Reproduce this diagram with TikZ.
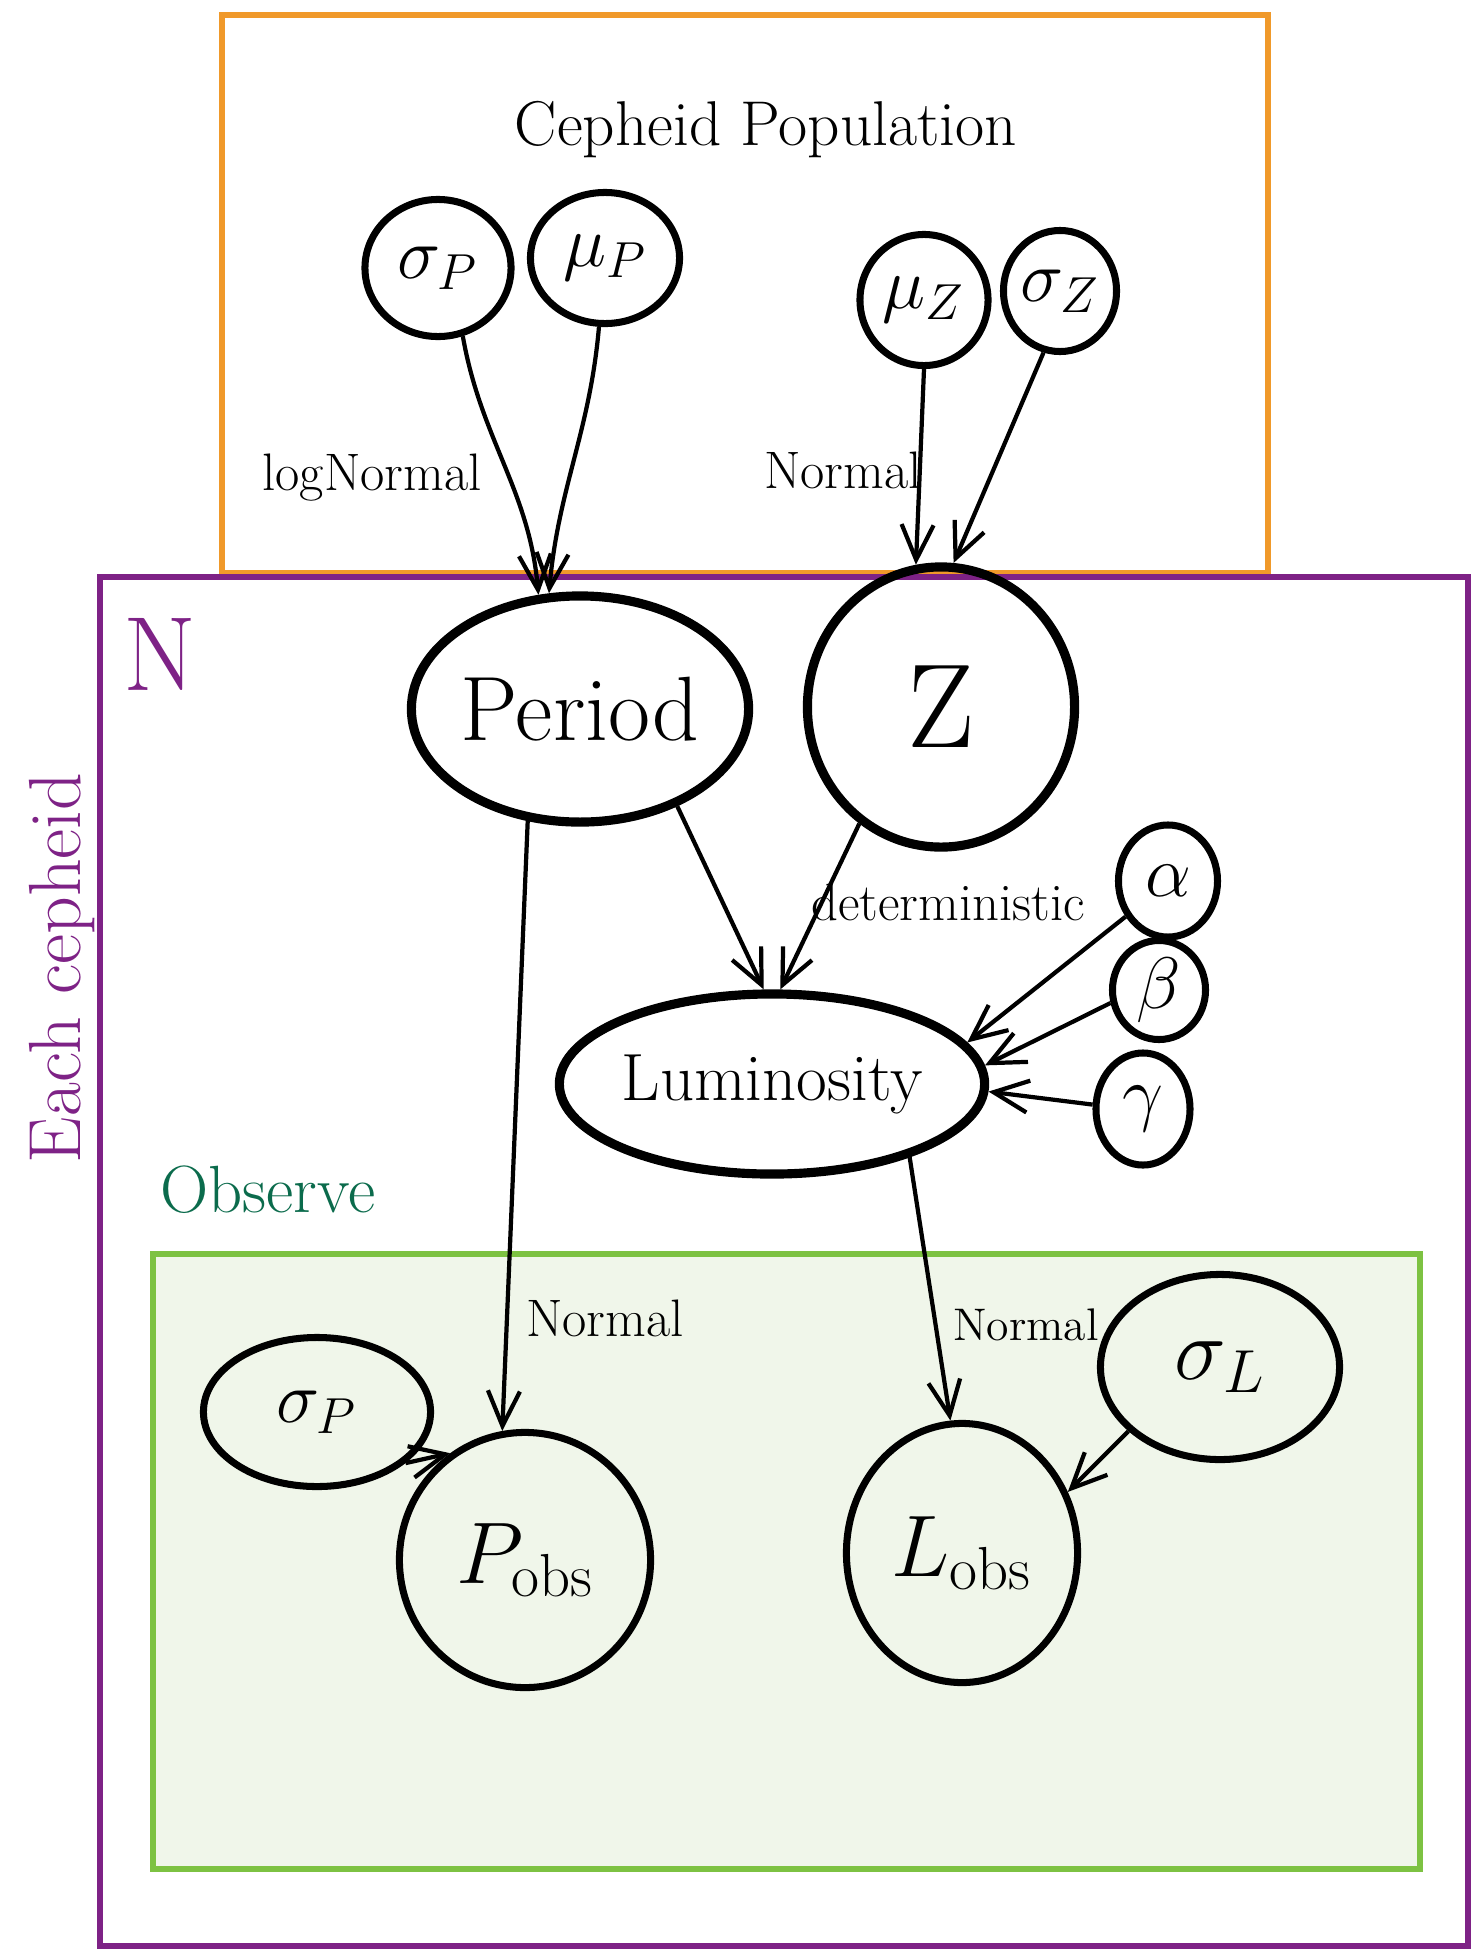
\documentclass[tikz,border=0pt]{standalone}
\usetikzlibrary{shapes.geometric,arrows.meta}
\definecolor{popOrange}{HTML}{F0992A}
\definecolor{plateViolet}{HTML}{7E2286}
\definecolor{obsGreen}{HTML}{7DC242}
\definecolor{obsFill}{HTML}{F0F6EA}
\definecolor{obsText}{HTML}{0B6B4C}

\begin{document}
\begin{tikzpicture}[x=0.01cm, y=-0.01cm,
  >={Straight Barb[length=3.5mm,width=3.2mm]},
  param/.style={ellipse, draw, line width=2pt, inner sep=0pt, font=\fontsize{20}{24}\selectfont},
  latent/.style={ellipse, draw, line width=2.6pt, inner sep=0pt, font=\fontsize{26}{30}\selectfont},
  hand/.style={font=\fontsize{15}{18}\selectfont},
  link/.style={->, line width=1.2pt}]
  \useasboundingbox (0,0) rectangle (1474,1954);
  % Plates
  \draw[popOrange, line width=1.6pt] (222,15) rectangle (1268,573);
  \draw[plateViolet, line width=1.8pt] (100,577) rectangle (1468,1946);
  \draw[obsGreen, fill=obsFill, line width=1.6pt] (153,1254) rectangle (1420,1869);
  % Nodes
  \node (sigP) [param, minimum width=1.46cm, minimum height=1.37cm] at (438, 268) {$\sigma_P$};
  \node (muP) [param, minimum width=1.49cm, minimum height=1.31cm] at (605, 258) {$\mu_P$};
  \node (muZ) [param, minimum width=1.28cm, minimum height=1.31cm] at (924, 300) {$\mu_Z$};
  \node (sigZ) [param, minimum width=0.97cm, minimum height=1.21cm] at (1060, 291) {$\sigma_Z$};
  \node (period) [latent, minimum width=3.37cm, minimum height=2.26cm] at (580, 709) {Period};
  \node (Z) [latent, minimum width=2.67cm, minimum height=2.8cm, font=\fontsize{34}{40}\selectfont] at (941, 707) {Z};
  \node (lum) [latent, minimum width=4.23cm, minimum height=1.8cm, font=\fontsize{19}{23}\selectfont] at (772, 1084) {Luminosity};
  \node (alpha) [param, minimum width=0.99cm, minimum height=1.12cm] at (1168, 881) {$\alpha$};
  \node (beta) [param, minimum width=0.93cm, minimum height=0.99cm] at (1159, 990) {$\beta$};
  \node (gamma) [param, minimum width=0.94cm, minimum height=1.12cm] at (1143, 1109) {$\gamma$};
  \node (sigPobs) [param, minimum width=2.27cm, minimum height=1.49cm] at (317, 1412) {$\sigma_P$};
  \node (pobs) [param, minimum width=2.51cm, minimum height=2.55cm, font=\fontsize{26}{30}\selectfont] at (525, 1560) {$P_{\mathrm{obs}}$};
  \node (lobs) [param, minimum width=2.31cm, minimum height=2.59cm, font=\fontsize{26}{30}\selectfont] at (962, 1553) {$L_{\mathrm{obs}}$};
  \node (sigL) [param, minimum width=2.39cm, minimum height=1.85cm, font=\fontsize{24}{28}\selectfont] at (1220, 1367) {$\sigma_L$};
  % Labels
  \node (title) [hand, font=\fontsize{18}{22}\selectfont] at (766, 130) {Cepheid Population};
  \node (lognormal) [hand] at (372, 478) {logNormal};
  \node (normalZ) [hand] at (843, 470) {Normal};
  \node (determ) [hand] at (948, 902) {deterministic};
  \node (normalP) [hand] at (605, 1318) {Normal};
  \node (normalL) [hand, font=\fontsize{13}{16}\selectfont] at (1026, 1325) {Normal};
  \node (plateN) [plateViolet, font=\fontsize{30}{34}\selectfont] at (160, 654) {N};
  \node (each) [plateViolet, rotate=90, font=\fontsize{21}{25}\selectfont] at (62, 968) {Each cepheid};
  \node (observe) [obsText, font=\fontsize{19}{23}\selectfont] at (268, 1190) {Observe};
  % Arrows
  \draw[link] (sigP.-70) to[out=-80, in=95] (period.110);
  \draw[link] (muP.-95) to[out=-95, in=85] (period.105);
  \draw[link] (muZ.-90) -- (Z.100);
  \draw[link] (sigZ.-105) -- (Z.85);
  \draw[link] (period.-45) -- (lum.95);
  \draw[link] (Z.-125) -- (lum.85);
  \draw[link] (period.-115) -- (pobs.100);
  \draw[link] (lum.-28) -- (lobs.95);
  \draw[link] (alpha.-140) -- (lum.12);
  \draw[link] (beta.-165) -- (lum.5);
  \draw[link] (gamma.175) -- (lum.-2);
  \draw[link] (sigPobs.-30) -- (pobs.125);
  \draw[link] (sigL.-145) -- (lobs.30);
\end{tikzpicture}
\end{document}
